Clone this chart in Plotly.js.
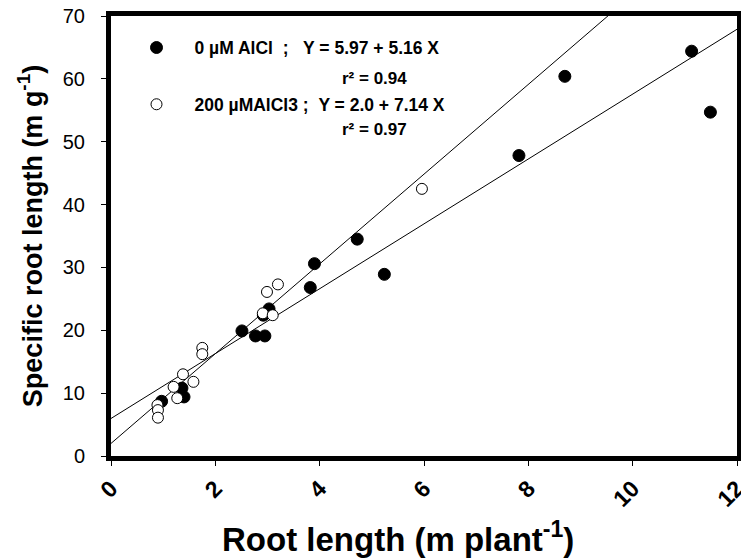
<!DOCTYPE html>
<html>
<head>
<meta charset="utf-8">
<script src="https://cdn.plot.ly/plotly-3.0.1.min.js"></script>
<style>
  html, body { margin: 0; padding: 0; background: #fff; }
  #chart { width: 741px; height: 560px; }
</style>
</head>
<body>
<div id="chart"></div>
<script>
// Root length vs specific root length, two AlCl3 treatments
const ctrlX = [11.49, 11.13, 8.70, 7.82, 4.72, 5.24, 3.90, 3.82, 3.03, 2.92, 2.51, 2.77, 2.95, 1.36, 1.40, 0.97];
const ctrlY = [54.7, 64.4, 60.4, 47.8, 34.5, 28.9, 30.6, 26.8, 23.4, 22.4, 19.9, 19.1, 19.1, 10.8, 9.4, 8.7];

const alX = [5.96, 3.20, 2.99, 2.91, 3.10, 1.75, 1.75, 1.38, 1.58, 1.20, 1.27, 0.89, 0.90, 0.90];
const alY = [42.5, 27.3, 26.1, 22.7, 22.4, 17.2, 16.2, 13.0, 11.8, 11.0, 9.2, 8.1, 7.3, 6.1];

// fitted regressions: Y = a + b X
const fitA = [5.97, 2.0];
const fitB = [5.16, 7.14];
const fitR2 = ['0.94', '0.97'];
const fitX = [0, 12];

const seriesNames = [
  '0 µM AlCl\u00A0\u00A0;\u00A0\u00A0\u00A0Y = 5.97 + 5.16 X',
  '200 µMAlCl3 ;\u00A0\u00A0Y = 2.0 + 7.14 X'
];

const xTicks = [0, 2, 4, 6, 8, 10, 12];
const yTicks = [0, 10, 20, 30, 40, 50, 60, 70];

const FONT = 'Liberation Sans, Arial, sans-serif';

const fitLine = (i) => ({
  x: fitX,
  y: fitX.map(v => fitA[i] + fitB[i] * v),
  mode: 'lines',
  line: { color: '#000', width: 1 },
  showlegend: false,
  hoverinfo: 'skip'
});

const traces = [
  fitLine(0),
  fitLine(1),
  {
    x: ctrlX, y: ctrlY, mode: 'markers', name: seriesNames[0],
    legendgroup: 'a',
    marker: { symbol: 'circle', size: 12, color: '#000', line: { color: '#000', width: 1 } }
  },
  {
    x: alX, y: alY, mode: 'markers', name: seriesNames[1],
    legendgroup: 'b',
    marker: { symbol: 'circle', size: 11, color: '#fff', line: { color: '#000', width: 1 } }
  }
];

const axisBase = {
  showline: true, linecolor: '#000', linewidth: 5, mirror: true,
  ticks: 'outside', ticklen: 5, tickwidth: 1, tickcolor: '#000',
  showgrid: false, zeroline: false, ticklabeloverflow: 'allow'
};

const layout = {
  width: 741, height: 560,
  margin: { l: 111, r: 4, t: 16, b: 104 },
  paper_bgcolor: '#fff', plot_bgcolor: '#fff',
  font: { family: FONT, color: '#000' },
  xaxis: Object.assign({}, axisBase, {
    range: [0, 12], tickvals: xTicks, ticktext: xTicks.map(String),
    tickangle: -45,
    tickfont: { family: FONT, size: 23, weight: 'bold', color: '#000' }
  }),
  yaxis: Object.assign({}, axisBase, {
    range: [0, 70], tickvals: yTicks, ticktext: yTicks.map(String),
    ticklabelstandoff: 12,
    tickfont: { family: FONT, size: 20, color: '#000' },
    title: { text: 'Specific root length (m g<sup>-1</sup>)', standoff: 14,
             font: { family: FONT, size: 27, weight: 'bold', color: '#000' } }
  }),
  showlegend: true,
  legend: {
    x: 0.012, y: 0.969, xanchor: 'left', yanchor: 'top',
    bgcolor: 'rgba(0,0,0,0)', borderwidth: 0,
    traceorder: 'grouped', tracegroupgap: 31,
    itemwidth: 66,
    font: { family: FONT, size: 17.5, weight: 'bold', color: '#000' }
  },
  annotations: fitR2.map((r, i) => ({
    xref: 'paper', yref: 'paper', x: 0.366, y: [0.859, 0.741][i],
    xanchor: 'left', yanchor: 'middle', showarrow: false,
    text: 'r² = ' + r,
    font: { family: FONT, size: 17, weight: 'bold', color: '#000' }
  })).concat([{
    // x-axis title
    xref: 'paper', yref: 'paper', x: 0.458, y: -0.184,
    xanchor: 'center', yanchor: 'middle', showarrow: false,
    text: 'Root length (m plant<sup>-1</sup>)',
    font: { family: FONT, size: 33, weight: 'bold', color: '#000' }
  }])
};

Plotly.newPlot('chart', traces, layout, { displayModeBar: false, staticPlot: true });
</script>
</body>
</html>
